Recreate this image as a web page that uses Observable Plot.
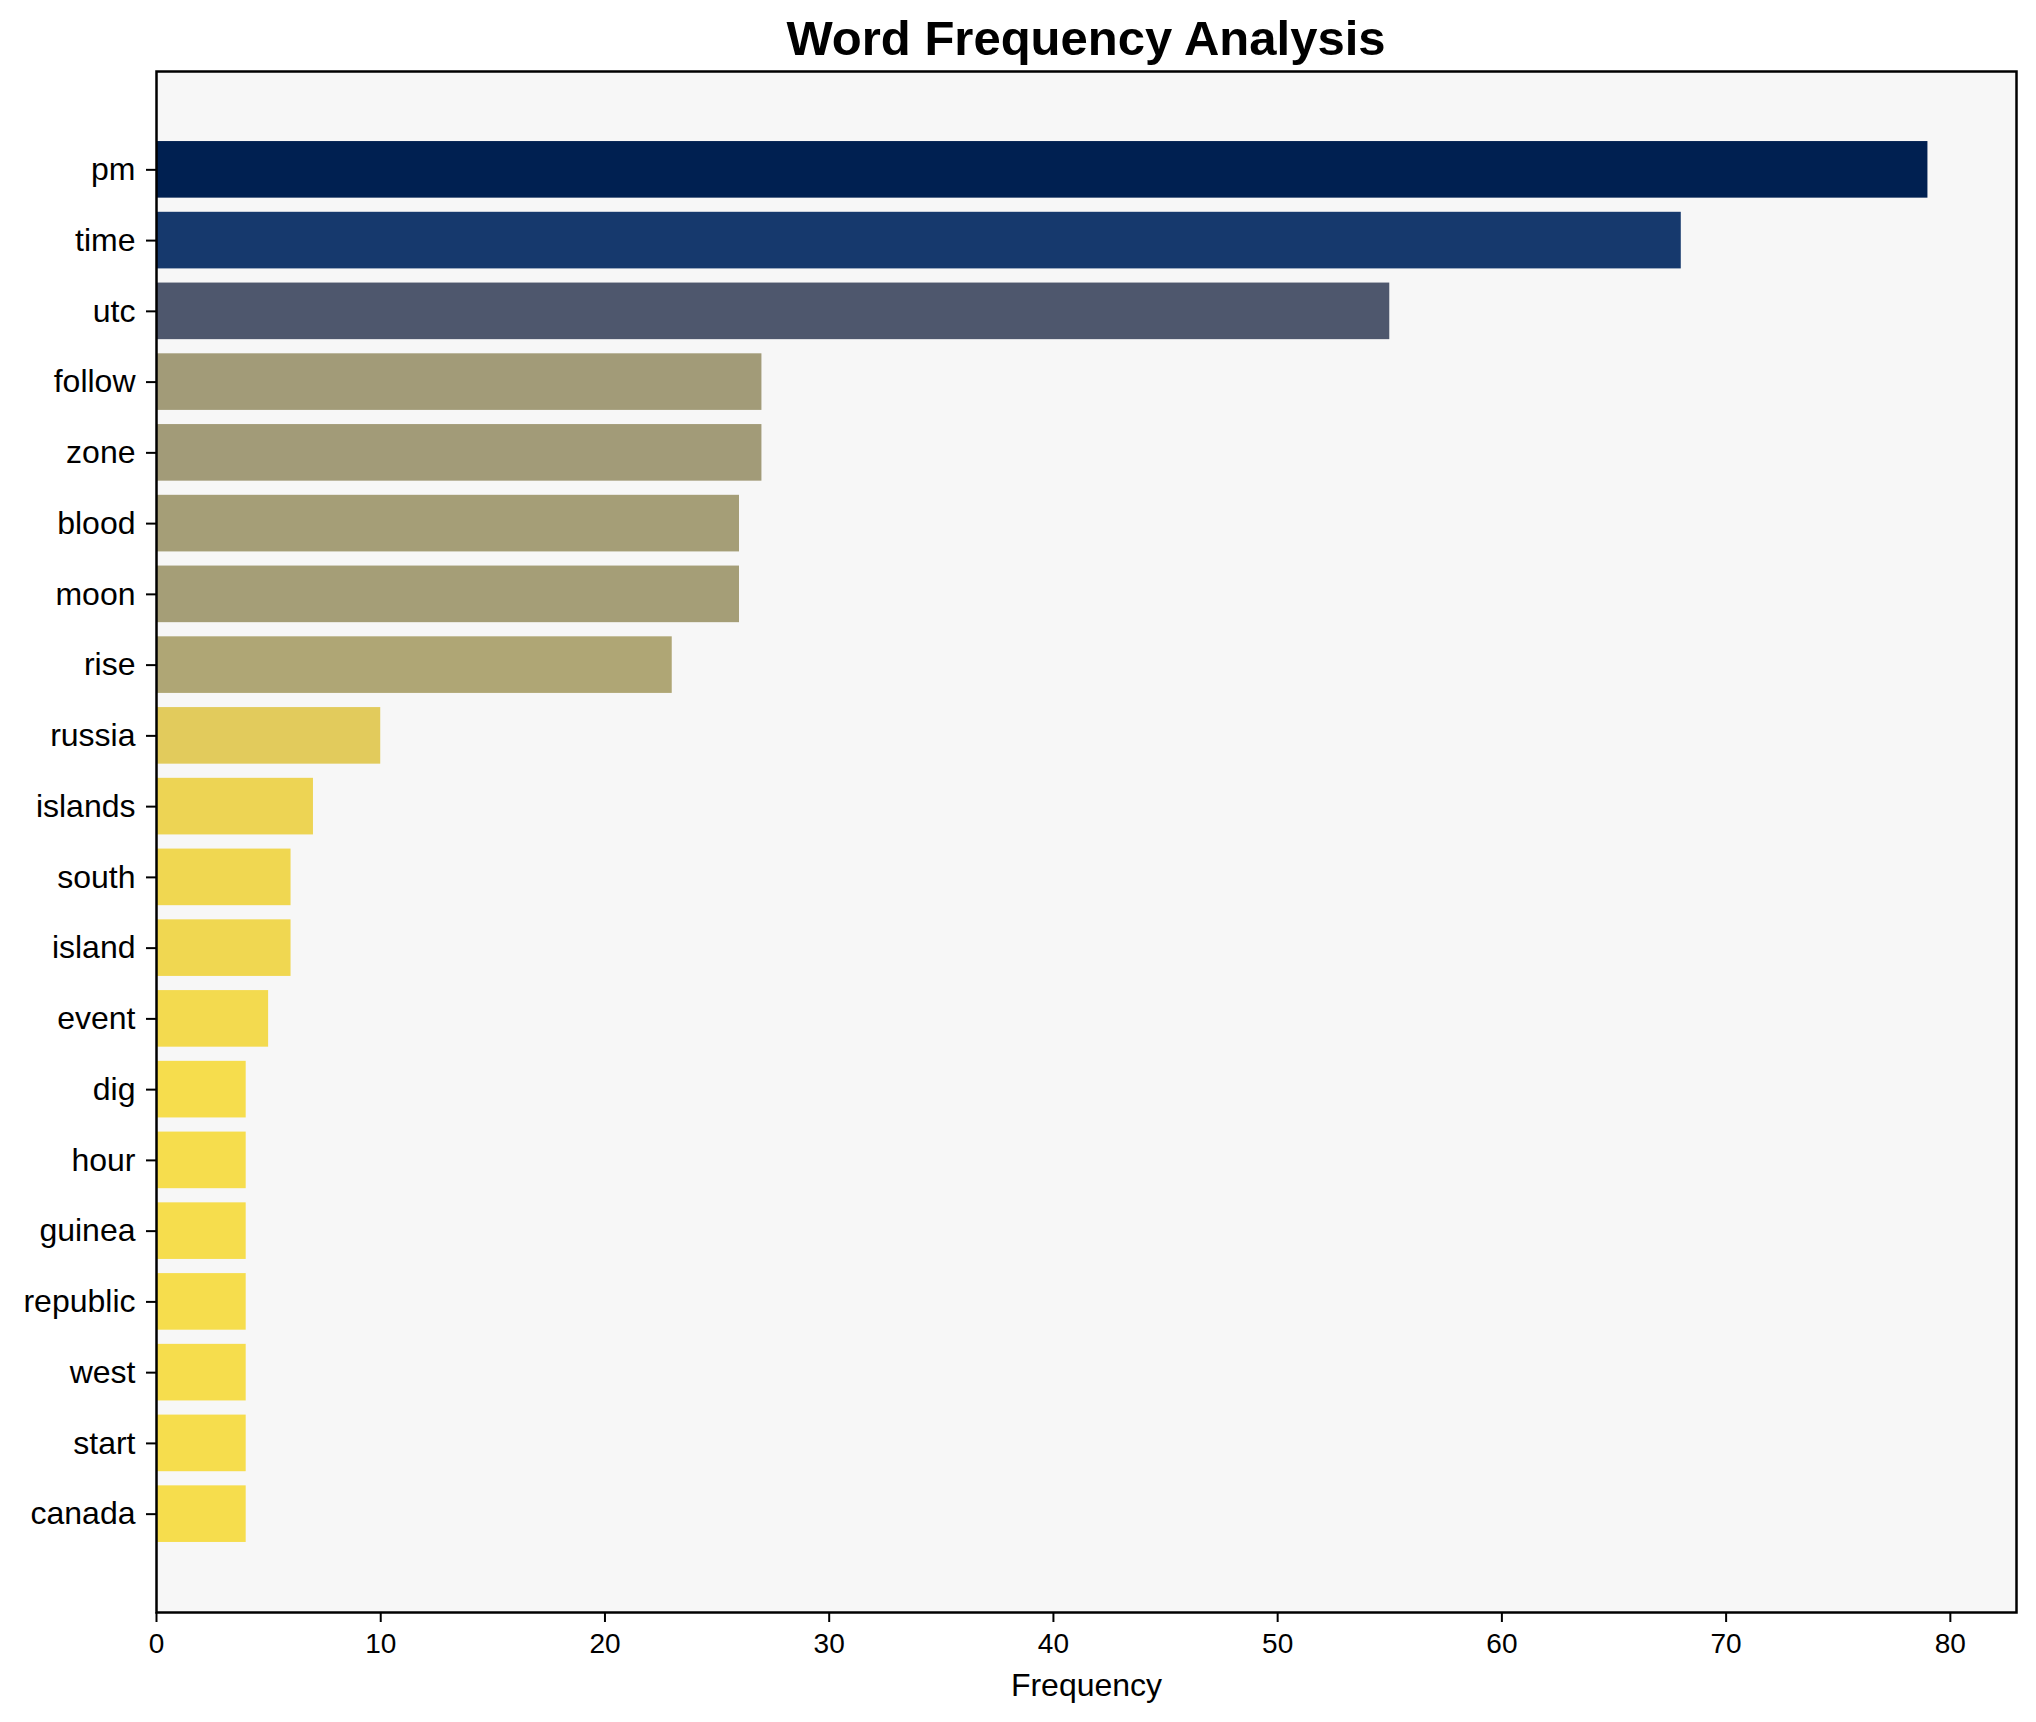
<!DOCTYPE html>
<html>
<head>
<meta charset="utf-8">
<script src="https://cdn.jsdelivr.net/npm/d3@7"></script>
<script src="https://cdn.jsdelivr.net/npm/@observablehq/plot@0.6"></script>
<style>
  html, body { margin: 0; padding: 0; background: white; }
  #wrap { position: relative; width: 2036px; height: 1722px; font-family: "Liberation Sans", Arial, sans-serif; }
  #title { position: absolute; left: 156px; width: 1860px; top: 14px; text-align: center; font-size: 49px; line-height: 49px; font-weight: bold; color: black; }
</style>
</head>
<body>
<div id="wrap">
  <div id="title">Word Frequency Analysis</div>
  <div id="chart"></div>
</div>
<script>
const words = ["pm", "time", "utc", "follow", "zone", "blood", "moon", "rise", "russia", "islands",
               "south", "island", "event", "dig", "hour", "guinea", "republic", "west", "start", "canada"];
const frequencies = [79, 68, 55, 27, 27, 26, 26, 23, 10, 7, 6, 6, 5, 4, 4, 4, 4, 4, 4, 4];
const xTicks = [0, 10, 20, 30, 40, 50, 60, 70, 80];
const xLabel = "Frequency";

const data = words.map((w, i) => ({word: w, freq: frequencies[i]}));
const maxF = d3.max(frequencies);

const chart = Plot.plot({
  width: 2036,
  height: 1722,
  marginLeft: 156,
  marginRight: 20,
  marginTop: 71,
  marginBottom: 110,
  style: {fontFamily: "'Liberation Sans', Arial, sans-serif", background: "white", color: "black", overflow: "visible"},
  x: {domain: [0, maxF * 1.05], label: null},
  y: {domain: words, paddingInner: 0.2, paddingOuter: 0.99, round: false, label: null},
  color: {type: "linear", scheme: "cividis", domain: [0, maxF], reverse: true},
  marks: [
    Plot.frame({fill: "#f7f7f7", stroke: null}),
    Plot.barX(data, {x: "freq", y: "word", fill: "freq", inset: 0}),
    Plot.axisX({ticks: xTicks, tickSize: 10, tickPadding: 11, fontSize: 28, strokeWidth: 2, label: null}),
    Plot.axisY({tickSize: 10, tickPadding: 11, fontSize: 32, strokeWidth: 2, label: null}),
    Plot.text([xLabel], {frameAnchor: "bottom", dy: 73, lineAnchor: "middle", fontSize: 32, fill: "black", text: d => d}),
    Plot.frame({stroke: "black", strokeWidth: 2.5})
  ]
});
document.getElementById("chart").appendChild(chart);
</script>
</body>
</html>
